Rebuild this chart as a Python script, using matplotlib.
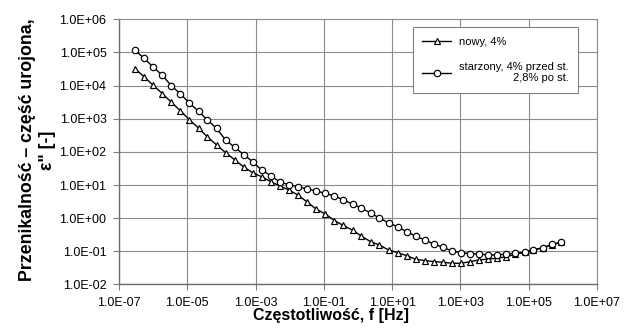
#!/usr/bin/env python3
"""Dielectric loss vs frequency, log-log (new vs aged sample)."""

import matplotlib

matplotlib.use("Agg")
import matplotlib.pyplot as plt
from matplotlib.ticker import FixedLocator, FuncFormatter
import numpy as np

# log10 of frequency [Hz] for each measured point
log_f = [
    -6.53, -6.27, -6.00, -5.73, -5.47, -5.20, -4.94, -4.67, -4.41, -4.14,
    -3.88, -3.61, -3.35, -3.08, -2.82, -2.55, -2.29, -2.02, -1.76, -1.49,
    -1.22, -0.96, -0.69, -0.43, -0.16, 0.10, 0.37, 0.63, 0.90, 1.16,
    1.43, 1.69, 1.96, 2.23, 2.49, 2.76, 3.02, 3.29, 3.55, 3.82,
    4.08, 4.35, 4.61, 4.88, 5.14, 5.41, 5.67, 5.94,
]

# log10 of eps'' - "nowy, 4%"
log_eps_new = [
    4.51, 4.27, 4.01, 3.76, 3.50, 3.24, 2.97, 2.72, 2.45, 2.21,
    1.98, 1.76, 1.55, 1.37, 1.25, 1.10, 0.97, 0.85, 0.70, 0.49,
    0.27, 0.13, -0.07, -0.22, -0.36, -0.54, -0.71, -0.81, -0.96, -1.04,
    -1.13, -1.24, -1.28, -1.31, -1.33, -1.36, -1.36, -1.31, -1.26, -1.23,
    -1.21, -1.16, -1.09, -1.03, -0.96, -0.89, -0.81, -0.73,
]

# log10 of eps'' - "starzony"
log_eps_aged = [
    5.06, 4.83, 4.56, 4.31, 4.00, 3.75, 3.47, 3.23, 2.96, 2.71,
    2.36, 2.14, 1.92, 1.70, 1.45, 1.28, 1.09, 1.01, 0.95, 0.88,
    0.82, 0.75, 0.67, 0.55, 0.43, 0.30, 0.16, 0.00, -0.14, -0.26,
    -0.41, -0.54, -0.66, -0.78, -0.88, -0.99, -1.04, -1.07, -1.08, -1.11,
    -1.11, -1.08, -1.06, -1.03, -0.96, -0.89, -0.79, -0.73,
]

x_ticks = [1e-7, 1e-5, 1e-3, 1e-1, 1e1, 1e3, 1e5, 1e7]
y_ticks = [1e-2, 1e-1, 1e0, 1e1, 1e2, 1e3, 1e4, 1e5, 1e6]

label_new = "nowy, 4%"
label_aged = "starzony, 4% przed st.\n2,8% po st."


def sci_fmt(v, _pos):
    exp = int(round(np.log10(v)))
    return f"1.0E{exp:+03d}"


plt.rcParams["font.family"] = ["Liberation Sans", "DejaVu Sans"]

fig = plt.figure(figsize=(6.31, 3.31), dpi=100)
ax = fig.add_axes([0.1886, 0.1405, 0.7574, 0.8012])

f = 10 ** np.asarray(log_f)
ax.plot(f, 10 ** np.asarray(log_eps_new), color="black", linewidth=1.0,
        marker="^", markersize=4.8, markerfacecolor="white",
        markeredgecolor="black", markeredgewidth=0.85, label=label_new)
ax.plot(f, 10 ** np.asarray(log_eps_aged), color="black", linewidth=1.0,
        marker="o", markersize=4.6, markerfacecolor="white",
        markeredgecolor="black", markeredgewidth=0.85, label=label_aged)

ax.set_xscale("log")
ax.set_yscale("log")
ax.set_xlim(1e-7, 1e7)
ax.set_ylim(1e-2, 1e6)
ax.xaxis.set_major_locator(FixedLocator(x_ticks))
ax.yaxis.set_major_locator(FixedLocator(y_ticks))
ax.xaxis.set_minor_locator(FixedLocator([]))
ax.yaxis.set_minor_locator(FixedLocator([]))
ax.xaxis.set_major_formatter(FuncFormatter(sci_fmt))
ax.yaxis.set_major_formatter(FuncFormatter(sci_fmt))
ax.tick_params(axis="both", labelsize=9, length=4, width=0.8,
               color="#808080", direction="out", pad=5)

ax.grid(True, color="#8c8c8c", linewidth=0.8)
ax.set_axisbelow(True)
for side in ["top", "right"]:
    ax.spines[side].set_color("#8c8c8c")
    ax.spines[side].set_linewidth(0.8)
for side in ["left", "bottom"]:
    ax.spines[side].set_color("#6e6e6e")
    ax.spines[side].set_linewidth(1.0)

ax.set_xlabel("Częstotliwość, f [Hz]", fontsize=11.5, fontweight="bold")
ax.xaxis.set_label_coords(0.444, -0.088)
ax.set_ylabel("Przenikalność – część urojona,\nε\" [-]", fontsize=12.8,
              fontweight="bold")
ax.yaxis.set_label_coords(-0.132, 0.507)

leg = ax.legend(loc="upper left", bbox_to_anchor=(0.654, 0.9175),
                bbox_transform=fig.transFigure, fontsize=8, frameon=True,
                fancybox=False, edgecolor="#808080", framealpha=1,
                borderaxespad=0, handlelength=2.6, handletextpad=0.75,
                borderpad=0.85, labelspacing=1.35)
leg.get_frame().set_linewidth(0.8)
for t in leg.get_texts():
    t.set_multialignment("right")

fig.savefig("out.png", dpi=100)
